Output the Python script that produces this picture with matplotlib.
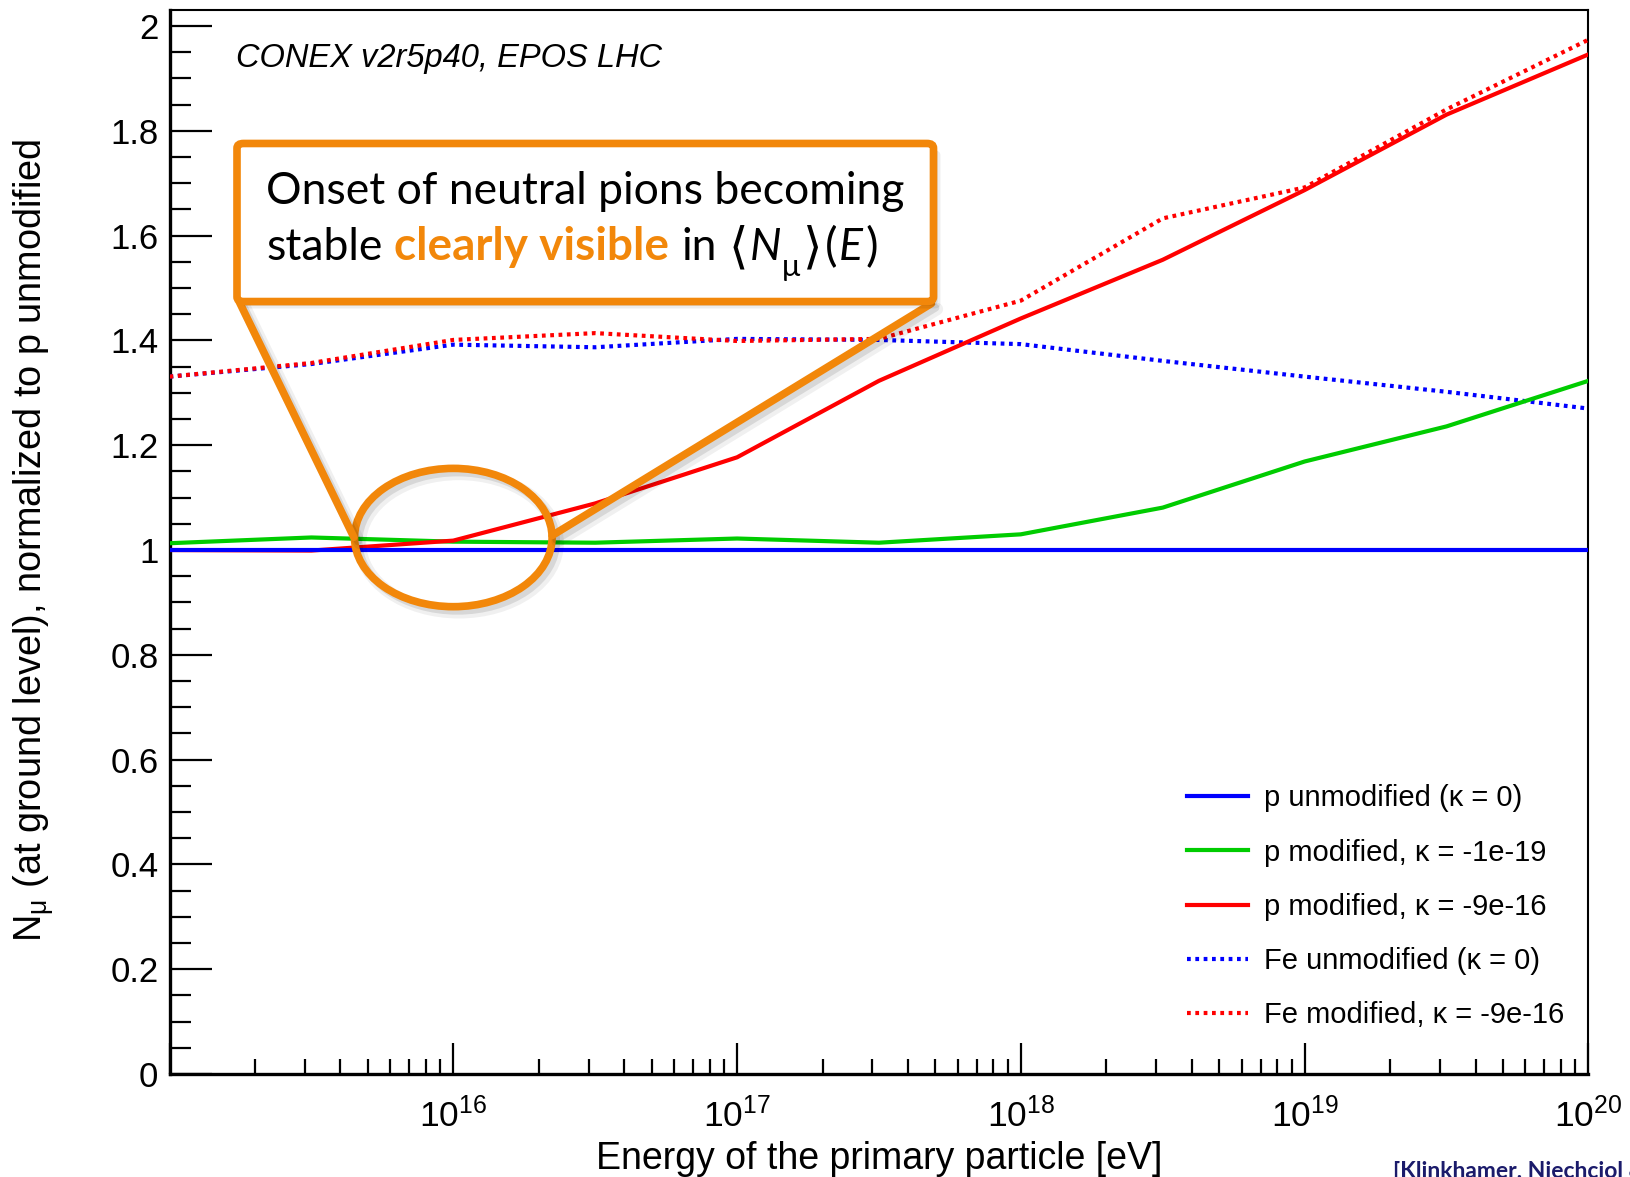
import numpy as np
import matplotlib
matplotlib.use("Agg")
import matplotlib.pyplot as plt
import matplotlib.patheffects as pe
from matplotlib.patches import FancyBboxPatch, Ellipse
from matplotlib.lines import Line2D
from matplotlib.ticker import LogLocator, MultipleLocator, FuncFormatter, NullFormatter

plt.rcParams['font.family'] = ['Liberation Sans', 'DejaVu Sans']
plt.rcParams['mathtext.fontset'] = 'custom'
plt.rcParams['mathtext.rm'] = 'Liberation Sans'
plt.rcParams['mathtext.it'] = 'Liberation Sans:italic'

# log10(E / eV) of the simulated primary energies
log_energy = [15.0, 15.5, 16.0, 16.5, 17.0, 17.5, 18.0, 18.5, 19.0, 19.5, 20.0]

p_unmod = [1.000, 1.000, 1.000, 1.000, 1.000, 1.000, 1.000, 1.000, 1.000, 1.000, 1.000]
p_mod_19 = [1.013, 1.024, 1.016, 1.014, 1.022, 1.014, 1.030, 1.081, 1.169, 1.236, 1.323]
p_mod_16 = [1.000, 0.999, 1.018, 1.089, 1.177, 1.323, 1.442, 1.554, 1.687, 1.831, 1.946]
fe_unmod = [1.331, 1.355, 1.392, 1.387, 1.403, 1.401, 1.393, 1.361, 1.331, 1.302, 1.270]
fe_mod_16 = [1.331, 1.357, 1.401, 1.414, 1.399, 1.403, 1.476, 1.633, 1.692, 1.841, 1.974]

labels = ["p unmodified (κ = 0)",
          "p modified, κ = -1e-19",
          "p modified, κ = -9e-16",
          "Fe unmodified (κ = 0)",
          "Fe modified, κ = -9e-16"]

energy = 10 ** np.array(log_energy)
orange = "#F2870A"

fig = plt.figure(figsize=(16.3, 11.77), dpi=100)
ax = fig.add_axes([0.104, 0.0875, 0.8705, 0.9037])

dot = (0, (0.9, 1.1))
ax.plot(energy, p_unmod, color="#0000FF", lw=3, label=labels[0], zorder=5)
ax.plot(energy, p_mod_19, color="#00CC00", lw=3, label=labels[1], zorder=4)
ax.plot(energy, p_mod_16, color="#FF0000", lw=3, label=labels[2], zorder=4)
ax.plot(energy, fe_unmod, color="#0000FF", lw=3, ls=dot, label=labels[3], zorder=3)
ax.plot(energy, fe_mod_16, color="#FF0000", lw=3, ls=dot, label=labels[4], zorder=3)

ax.set_xscale("log")
ax.set_xlim(1e15, 1e20)
ax.set_ylim(0, 2.03)

ax.xaxis.set_major_locator(LogLocator(base=10, numticks=10))
ax.xaxis.set_minor_locator(LogLocator(base=10, subs=np.arange(2, 10), numticks=20))
ax.xaxis.set_minor_formatter(NullFormatter())

def exp_fmt(v, pos):
    e = int(round(np.log10(v)))
    if e <= 15:
        return ""
    return r"$10^{%d}$" % e

ax.xaxis.set_major_formatter(FuncFormatter(exp_fmt))
ax.yaxis.set_major_locator(MultipleLocator(0.2))
ax.yaxis.set_minor_locator(MultipleLocator(0.05))
ax.yaxis.set_major_formatter(FuncFormatter(lambda v, p: "%g" % round(v, 2)))

ax.tick_params(axis="y", which="major", direction="in", length=30, width=1.6,
               labelsize=25, pad=8, right=False)
ax.tick_params(axis="y", which="minor", direction="in", length=15, width=1.6, right=False)
ax.tick_params(axis="x", which="major", direction="in", length=22, width=1.6,
               labelsize=25.5, pad=17, top=False)
ax.tick_params(axis="x", which="minor", direction="in", length=11, width=1.6, top=False)

for side in ["left", "bottom"]:
    ax.spines[side].set_linewidth(2.4)
for side in ["top", "right"]:
    ax.spines[side].set_linewidth(1.5)

ax.set_xlabel("Energy of the primary particle [eV]", fontsize=27, labelpad=5)
fig.text(0.021, 0.541, r"$\mathregular{N_{\mu}}$ (at ground level), normalized to p unmodified",
         rotation=90, ha="center", va="center", fontsize=27.3)

ax.text(0.047, 0.955, "CONEX v2r5p40, EPOS LHC", transform=ax.transAxes,
        fontsize=23.5, style="italic", va="center")

leg = ax.legend(loc="upper left", bbox_to_anchor=(0.7283, 0.3336),
                bbox_transform=fig.transFigure, frameon=False, fontsize=21,
                handlelength=2.1, handletextpad=0.55, labelspacing=0.9,
                borderpad=0, borderaxespad=0)

# reference note in the lower right corner, running off the page edge
fig.text(0.8546, -0.001, "[Klinkhamer, Niechciol & Risse]", color="#1B1B6B",
         fontsize=16.5, fontweight="bold", family=["Lato", "DejaVu Sans"], va="baseline")

# callout: ellipse around the onset, lines to the comment box
soft = [pe.SimpleLineShadow(offset=(4, -4), shadow_color="k", alpha=0.06, linewidth=9),
        pe.SimpleLineShadow(offset=(3, -3), shadow_color="k", alpha=0.10),
        pe.Normal()]

ell = Ellipse((0.2781, 0.5433), 0.1212, 0.1175, transform=fig.transFigure,
              facecolor="none", edgecolor=orange, lw=5.5, path_effects=soft)
fig.patches.append(ell)

for xs, ys in [((0.1467, 0.2171), (0.7438, 0.5435)),
               ((0.5714, 0.3387), (0.7421, 0.5450))]:
    fig.lines.append(Line2D(xs, ys, transform=fig.transFigure, color=orange, lw=5.5,
                            solid_capstyle="round", path_effects=soft))

box = FancyBboxPatch((0.1454, 0.7438), 0.4273, 0.1343,
                     boxstyle="round,pad=0,rounding_size=0.004",
                     transform=fig.transFigure, facecolor="white", edgecolor=orange,
                     lw=5.5, zorder=3,
                     path_effects=[pe.SimplePatchShadow(offset=(5, -5), shadow_rgbFace="k",
                                                        alpha=0.07),
                                   pe.SimplePatchShadow(offset=(3, -3), shadow_rgbFace="k",
                                                        alpha=0.10),
                                   pe.Normal()])
fig.patches.append(box)

box_font = ["Lato", "DejaVu Sans"]
fs = 32
fig.text(0.1633, 0.8269, "Onset of neutral pions becoming", fontsize=fs,
         family=box_font, va="baseline", zorder=4)

renderer = fig.canvas.get_renderer()
inv = fig.transFigure.inverted()
space = 0.0072
runs = [
    ("stable", dict(color="black"), space, 0),
    ("clearly visible", dict(color=orange, fontweight="bold", fontsize=33), space, 0),
    ("in", dict(color="black"), space, 0),
    ("⟨", dict(color="black", fontsize=36), 0.0015, -0.002),
    ("N", dict(color="black", style="italic"), 0.0, 0),
    ("μ", dict(color="black", fontsize=22), 0.002, -0.014),
    ("⟩", dict(color="black", fontsize=36), 0.0015, -0.002),
    ("(", dict(color="black", fontsize=34), 0.0005, -0.001),
    ("E", dict(color="black", style="italic"), 0.0015, 0),
    (")", dict(color="black", fontsize=34), 0.0, -0.001),
]
x = 0.1633
y = 0.7792
for s, kw, gap, dy in runs:
    kw = dict(kw)
    size = kw.pop("fontsize", fs)
    t = fig.text(x, y + dy, s, fontsize=size, family=box_font, va="baseline",
                 zorder=4, **kw)
    bb = t.get_window_extent(renderer=renderer)
    x = inv.transform((bb.x1, bb.y0))[0] + gap

fig.savefig("out.png", dpi=100)
